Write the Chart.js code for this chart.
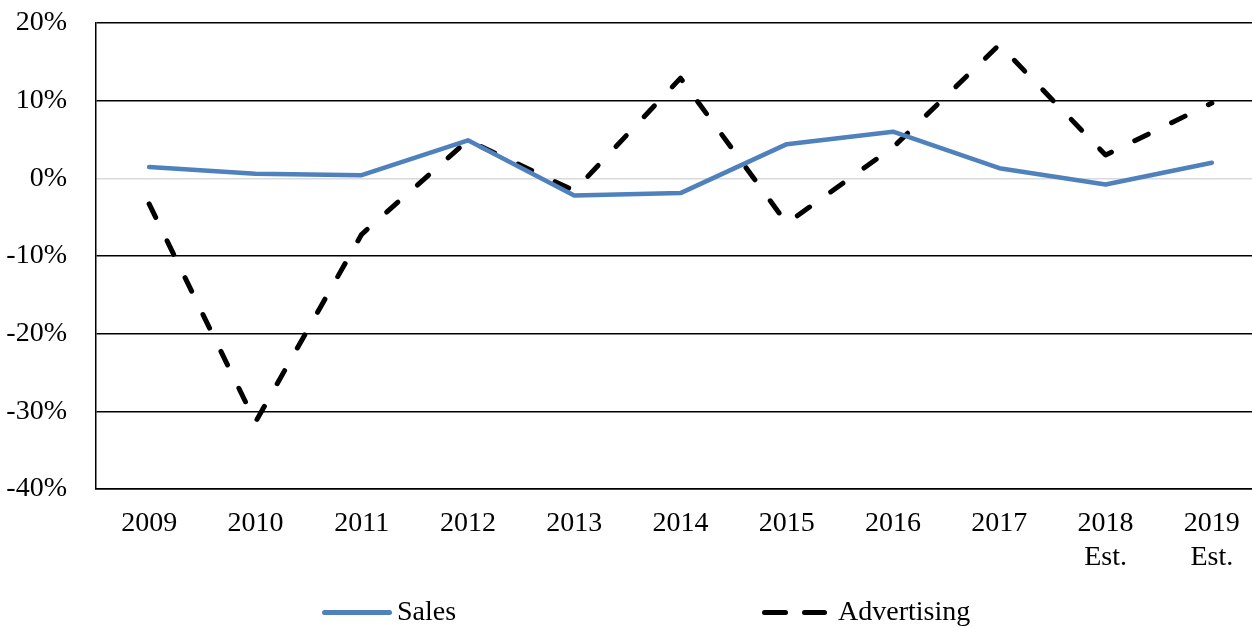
<!DOCTYPE html>
<html>
<head>
<meta charset="utf-8">
<script src="https://cdn.jsdelivr.net/npm/chart.js@4/dist/chart.umd.min.js"></script>
<style>
    html, body { margin: 0; padding: 0; background: #fff; overflow: hidden; }
    #wrap { position: relative; width: 1252px; height: 627px; overflow: hidden; }
    #chart { position: absolute; left: 0; top: 0; }
    .legend-item { position: absolute; top: 597px; font: 28px "Liberation Serif", "Times New Roman", serif; color: #000; line-height: 28px; white-space: nowrap; }
    .swatch { position: absolute; height: 5px; border-radius: 3px; }
</style>
</head>
<body>
<div id="wrap">
    <canvas id="chart" width="1275" height="627"></canvas>
    <div class="swatch" style="left:322px;top:610px;width:70px;background:#4f81bd;"></div>
    <div class="legend-item" style="left:397px;">Sales</div>
    <div class="swatch" style="left:762px;top:610px;width:26px;background:#000;"></div>
    <div class="swatch" style="left:802px;top:610px;width:25px;background:#000;"></div>
    <div class="legend-item" style="left:838px;">Advertising</div>
</div>
<script>
const years = ['2009', '2010', '2011', '2012', '2013', '2014', '2015', '2016', '2017', ['2018', 'Est.'], ['2019', 'Est.']];
const sales = [1.45, 0.6, 0.4, 4.9, -2.2, -1.9, 4.4, 6.0, 1.3, -0.8, 2.0];
const advertising = [-3.3, -31.4, -7.2, 4.9, -1.6, 12.9, -5.8, 4.0, 17.2, 3.0, 9.7];
const yTicks = [-40, -30, -20, -10, 0, 10, 20];

const FONT = { family: '"Liberation Serif", "Times New Roman", serif', size: 28, lineHeight: 1.2 };

new Chart(document.getElementById('chart'), {
    type: 'line',
    data: {
        labels: years,
        datasets: [{
            label: 'Sales',
            data: sales,
            borderColor: '#4f81bd',
            borderWidth: 4.5,
            borderCapStyle: 'round',
            borderJoinStyle: 'round',
            pointRadius: 0,
            tension: 0
        }, {
            label: 'Advertising',
            data: advertising,
            borderColor: '#000',
            borderWidth: 5,
            borderDash: [15, 26],
            borderCapStyle: 'round',
            borderJoinStyle: 'round',
            pointRadius: 0,
            tension: 0
        }]
    },
    options: {
        responsive: false,
        animation: false,
        layout: { padding: { top: 23, right: 10, bottom: 0, left: 0 } },
        plugins: { legend: { display: false }, tooltip: { enabled: false } },
        scales: {
            x: {
                offset: true,
                grid: { display: false, drawTicks: false },
                border: { display: true, color: '#000', width: 1.5 },
                ticks: { color: '#000', font: FONT, padding: 18, maxRotation: 0, autoSkip: false },
                afterFit: s => { s.height = 138; s.paddingLeft = 0; s.paddingRight = 0; }
            },
            y: {
                min: yTicks[0],
                max: yTicks[yTicks.length - 1],
                afterBuildTicks: s => { s.ticks = yTicks.map(v => ({ value: v })); },
                grid: {
                    drawTicks: false,
                    lineWidth: 1.5,
                    color: c => c.tick && c.tick.value === 0 ? '#d9d9d9' : '#000'
                },
                border: { display: true, color: '#000', width: 1.5 },
                ticks: { color: '#000', font: FONT, padding: 29, callback: v => v + '%' },
                afterFit: s => { s.width = 96; s.paddingTop = 0; s.paddingBottom = 0; }
            }
        }
    }
});
</script>
</body>
</html>
